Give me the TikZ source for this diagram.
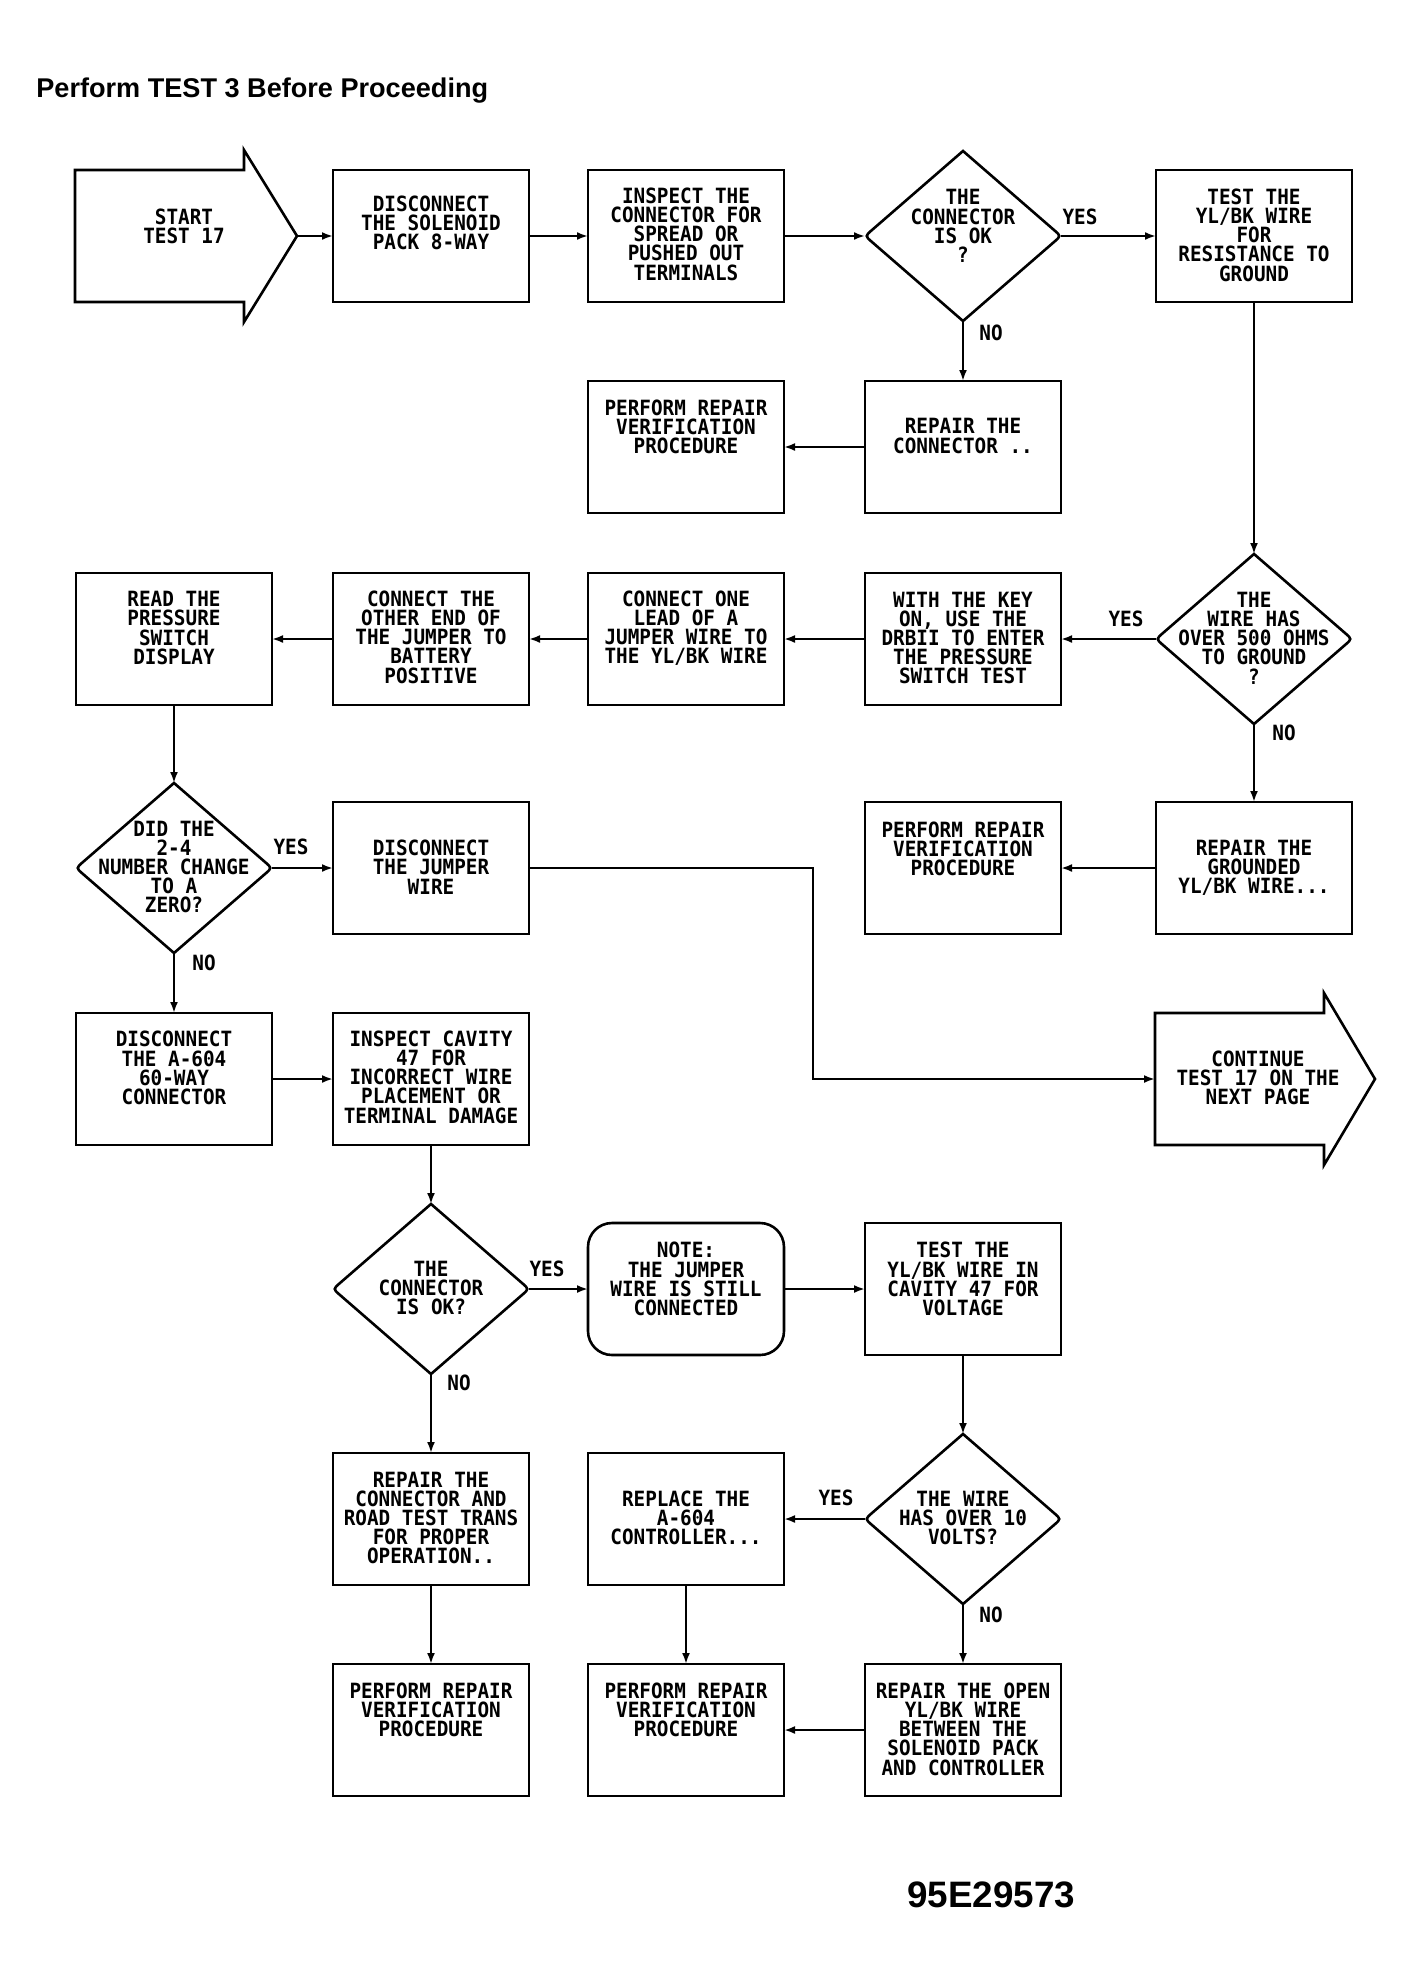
\documentclass[tikz,border=0pt]{standalone}
\usepackage{fontspec}
\usetikzlibrary{arrows.meta,calc}
\newfontfamily\plotfont[FakeStretch=0.92]{DejaVu Sans Mono}
\newfontfamily\headfont{Liberation Sans}
\newcommand\plottext{\plotfont\bfseries\fontsize{10.5pt}{9.6pt}\selectfont\lineskiplimit=-20pt}
\tikzset{
  box/.style={draw, line width=1.3pt, minimum width=98pt, minimum height=66pt, inner sep=0pt, outer sep=0pt},
  txt/.style={font=\plottext, align=center, inner sep=0pt},
  dia/.style={minimum width=98pt, minimum height=85pt, inner sep=0pt, outer sep=0pt},
  outline/.style={line width=1.3pt, line join=miter},
  conn/.style={line width=1.1pt, -{Latex[length=5.5pt,width=4pt]}},
  lbl/.style={font=\plottext, inner sep=0pt},
}
% name, cx, cy, text-y, text
\newcommand\mkbox[5]{%
  \node[box] (#1) at (#2,#3) {};
  \node[txt] (#1-t) at (#2,#4) {#5};
}
% name, cx, cy, text-y, text
\newcommand\mkdecision[5]{%
  \node[dia] (#1) at (#2,#3) {};
  \node[txt] (#1-t) at (#2,#4) {#5};
  \draw[outline] (#1.north) -- ($(#1.east)+(-7,-6)$) .. controls (#1.east) .. ($(#1.east)+(-7,6)$)
     -- (#1.south) -- ($(#1.west)+(7,6)$) .. controls (#1.west) .. ($(#1.west)+(7,-6)$) -- cycle;
}
\begin{document}
\begin{tikzpicture}[x=0.5pt,y=-0.5pt]
\useasboundingbox (0,0) rectangle (1414,1982);
\fill[white] (0,0) rectangle (1414,1982);

% title and figure number
\node[anchor=base west, inner sep=0pt, font=\headfont\bfseries\fontsize{13.55pt}{16pt}\selectfont] (title) at (36,97) {Perform TEST 3 Before Proceeding};
\node[anchor=base west, inner sep=0pt, font=\headfont\bfseries\fontsize{18.4pt}{22pt}\selectfont] (fignum) at (907,1907) {95E29573};

% start arrow
\draw[outline] (75,170) -- (244,170) -- (244,150) -- (297,236) -- (244,322) -- (244,302) -- (75,302) -- cycle;
\coordinate (starttip) at (297,236);
\node[txt] (start-t) at (184,226) {START\\TEST 17};

% row 1
\mkbox{disc}{431}{236}{223}{DISCONNECT\\THE SOLENOID\\PACK 8-WAY}
\mkbox{insp}{686}{236}{234}{INSPECT THE\\CONNECTOR FOR\\SPREAD OR\\PUSHED OUT\\TERMINALS}
\mkdecision{dA}{963}{236}{226}{THE\\CONNECTOR\\IS OK\\?}
\mkbox{testgnd}{1254}{236}{235}{TEST THE\\YL/BK WIRE\\FOR\\RESISTANCE TO\\GROUND}

% row 2
\mkbox{prvA}{686}{447}{427}{PERFORM REPAIR\\VERIFICATION\\PROCEDURE}
\mkbox{repconn}{963}{447}{436}{REPAIR THE\\CONNECTOR ..}

% row 3
\mkbox{read}{174}{639}{628}{READ THE\\PRESSURE\\SWITCH\\DISPLAY}
\mkbox{cother}{431}{639}{637}{CONNECT THE\\OTHER END OF\\THE JUMPER TO\\BATTERY\\POSITIVE}
\mkbox{cone}{686}{639}{628}{CONNECT ONE\\LEAD OF A\\JUMPER WIRE TO\\THE YL/BK WIRE}
\mkbox{withkey}{963}{639}{638}{WITH THE KEY\\ON, USE THE\\DRBII TO ENTER\\THE PRESSURE\\SWITCH TEST}
\mkdecision{dB}{1254}{639}{638}{THE\\WIRE HAS\\OVER 500 OHMS\\TO GROUND\\?}

% row 4
\mkdecision{dC}{174}{868}{867}{DID THE\\2-4\\NUMBER CHANGE\\TO A\\ZERO?}
\mkbox{jumper}{431}{868}{867}{DISCONNECT\\THE JUMPER\\WIRE}
\mkbox{prvB}{963}{868}{849}{PERFORM REPAIR\\VERIFICATION\\PROCEDURE}
\mkbox{repgnd}{1254}{868}{868}{REPAIR THE\\GROUNDED\\YL/BK WIRE...}

% row 5
\mkbox{dis604}{174}{1079}{1068}{DISCONNECT\\THE A-604\\60-WAY\\CONNECTOR}
\mkbox{cavity}{431}{1079}{1077}{INSPECT CAVITY\\47 FOR\\INCORRECT WIRE\\PLACEMENT OR\\TERMINAL DAMAGE}
\node[dia, minimum width=84.5pt, minimum height=66pt] (cont) at (1239.5,1079) {};
\draw[outline] (1155,1013) -- (1324,1013) -- (1324,993) -- (1375,1079) -- (1324,1165) -- (1324,1145) -- (1155,1145) -- cycle;
\node[txt] (cont-t) at (1258,1078) {CONTINUE\\TEST 17 ON THE\\NEXT PAGE};

% row 6
\mkdecision{dD}{431}{1289}{1288}{THE\\CONNECTOR\\IS OK?}
\node[box, rounded corners=12pt] (note) at (686,1289) {};
\node[txt] (note-t) at (686,1279) {NOTE:\\THE JUMPER\\WIRE IS STILL\\CONNECTED};
\mkbox{testv}{963}{1289}{1279}{TEST THE\\YL/BK WIRE IN\\CAVITY 47 FOR\\VOLTAGE}

% row 7
\mkbox{reproad}{431}{1519}{1518}{REPAIR THE\\CONNECTOR AND\\ROAD TEST TRANS\\FOR PROPER\\OPERATION..}
\mkbox{replace}{686}{1519}{1518}{REPLACE THE\\A-604\\CONTROLLER...}
\mkdecision{dE}{963}{1519}{1518}{THE WIRE\\HAS OVER 10\\VOLTS?}

% row 8
\mkbox{prvC}{431}{1730}{1710}{PERFORM REPAIR\\VERIFICATION\\PROCEDURE}
\mkbox{prvD}{686}{1730}{1710}{PERFORM REPAIR\\VERIFICATION\\PROCEDURE}
\mkbox{repopen}{963}{1730}{1729}{REPAIR THE OPEN\\YL/BK WIRE\\BETWEEN THE\\SOLENOID PACK\\AND CONTROLLER}

% connectors
\draw[conn] (starttip) -- (disc.west);
\draw[conn] (disc.east) -- (insp.west);
\draw[conn] (insp.east) -- (dA.west);
\draw[conn] (dA.east) -- (testgnd.west);
\draw[conn] (dA.south) -- (repconn.north);
\draw[conn] (repconn.west) -- (prvA.east);
\draw[conn] (testgnd.south) -- (dB.north);
\draw[conn] (dB.west) -- (withkey.east);
\draw[conn] (withkey.west) -- (cone.east);
\draw[conn] (cone.west) -- (cother.east);
\draw[conn] (cother.west) -- (read.east);
\draw[conn] (read.south) -- (dC.north);
\draw[conn] (dC.east) -- (jumper.west);
\draw[conn] (dC.south) -- (dis604.north);
\draw[conn] (dB.south) -- (repgnd.north);
\draw[conn] (repgnd.west) -- (prvB.east);
\coordinate (jbend) at (813,1079);
\draw[conn] (jumper.east) -| (jbend) -- (cont.west);
\draw[conn] (dis604.east) -- (cavity.west);
\draw[conn] (cavity.south) -- (dD.north);
\draw[conn] (dD.east) -- (note.west);
\draw[conn] (dD.south) -- (reproad.north);
\draw[conn] (note.east) -- (testv.west);
\draw[conn] (testv.south) -- (dE.north);
\draw[conn] (dE.west) -- (replace.east);
\draw[conn] (dE.south) -- (repopen.north);
\draw[conn] (repopen.west) -- (prvD.east);
\draw[conn] (replace.south) -- (prvD.north);
\draw[conn] (reproad.south) -- (prvC.north);

% branch labels
\node[lbl] (yes1) at (1080,217) {YES};
\node[lbl] (no1) at (991,333) {NO};
\node[lbl] (yes2) at (1126,619) {YES};
\node[lbl] (no2) at (1284,733) {NO};
\node[lbl] (yes3) at (291,847) {YES};
\node[lbl] (no3) at (204,963) {NO};
\node[lbl] (yes4) at (547,1269) {YES};
\node[lbl] (no4) at (459,1383) {NO};
\node[lbl] (yes5) at (836,1498) {YES};
\node[lbl] (no5) at (991,1615) {NO};
\end{tikzpicture}
\end{document}
